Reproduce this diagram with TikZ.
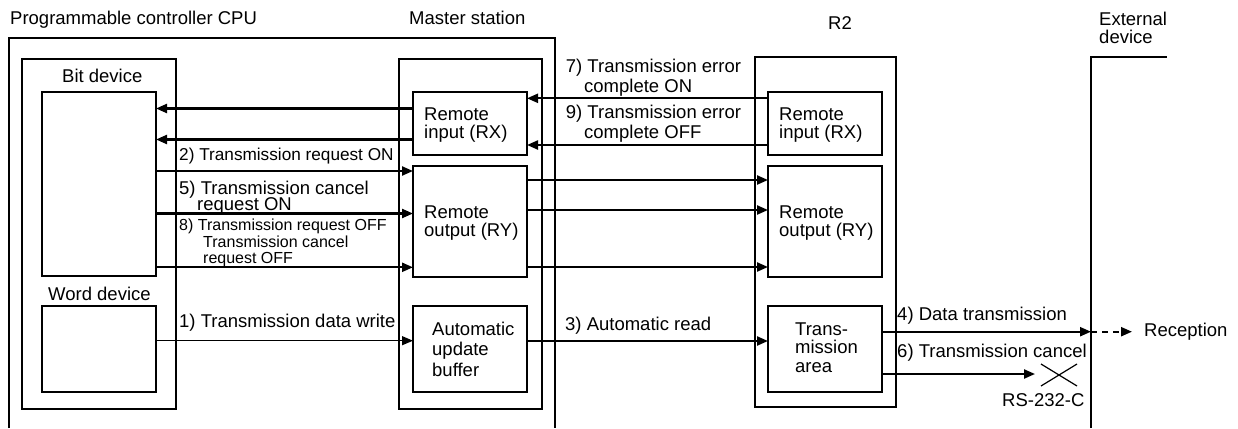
\documentclass[tikz,border=0pt]{standalone}
\usepackage{fontspec}
\setmainfont{Liberation Sans}
\usetikzlibrary{arrows.meta}
\begin{document}
\begin{tikzpicture}[x=1pt,y=-1pt,
  box/.style={draw, line width=1.4pt, anchor=north west, inner sep=0pt, outer sep=0pt},
  txt/.style={anchor=base west, inner sep=0pt, font=\fontsize{18.5}{20}\selectfont},
  stxt/.style={anchor=base west, inner sep=0pt, font=\fontsize{16}{18}\selectfont},
  arr/.style={line width=2.2pt, -{Triangle[length=11pt,width=9pt]}},
  tarr/.style={line width=1.2pt, -{Triangle[length=11pt,width=9pt]}},
  frame/.style={line width=1.4pt}]
\useasboundingbox (0,0) rectangle (1238,428);
% open frames
\draw[frame] (9,428) -- (9,38) -- (555,38) -- (555,428);
\draw[frame] (1091,428) -- (1091,57) -- (1167,57);
% boxes
\node[box, minimum width=154pt, minimum height=350pt] (cpuin) at (22,59) {};
\node[box, minimum width=114pt, minimum height=184pt] (bit) at (42,92) {};
\node[box, minimum width=114pt, minimum height=86pt] (word) at (42,306) {};
\node[box, minimum width=143pt, minimum height=350pt] (mst) at (399,59) {};
\node[box, minimum width=114pt, minimum height=63pt] (mrx) at (413,92) {};
\node[box, minimum width=114pt, minimum height=111pt] (mry) at (413,166) {};
\node[box, minimum width=114pt, minimum height=86pt] (buf) at (413,306) {};
\node[box, minimum width=141pt, minimum height=350pt] (r2) at (755,57) {};
\node[box, minimum width=114pt, minimum height=63pt] (rrx) at (768,92) {};
\node[box, minimum width=114pt, minimum height=111pt] (rry) at (768,166) {};
\node[box, minimum width=114pt, minimum height=86pt] (tra) at (768,306) {};
% titles
\node[txt] (tcpu) at (10,25) {Programmable controller CPU};
\node[txt] (tmst) at (409,25) {Master station};
\node[txt] (tr2) at (828,30) {R2};
\node[txt] (text1) at (1099,26) {External};
\node[txt] (text2) at (1099,43.5) {device};
\node[txt] (tbit) at (62,82) {Bit device};
\node[txt] (tword) at (48,300) {Word device};
% box texts
\node[txt] (mrx1) at (424,120) {Remote};
\node[txt] (mrx2) at (424,138.5) {input (RX)};
\node[txt] (mry1) at (424,218) {Remote};
\node[txt] (mry2) at (424,236.5) {output (RY)};
\node[txt] (buf1) at (432,335) {Automatic};
\node[txt] (buf2) at (432,355.5) {update};
\node[txt] (buf3) at (432,376.5) {buffer};
\node[txt] (rrx1) at (779,120) {Remote};
\node[txt] (rrx2) at (779,138.5) {input (RX)};
\node[txt] (rry1) at (779,218) {Remote};
\node[txt] (rry2) at (779,236.5) {output (RY)};
\node[txt] (tra1) at (795,335) {Trans-};
\node[txt] (tra2) at (795,353.5) {mission};
\node[txt] (tra3) at (795,372) {area};
% connector labels
\node[txt, font=\fontsize{17.2}{19}\selectfont] (l2) at (179,160.5) {2) Transmission request ON};
\node[txt] (l5a) at (179,194.5) {5) Transmission cancel};
\node[txt] (l5b) at (197,210.5) {request ON};
\node[stxt] (l8a) at (179,230) {8) Transmission request OFF};
\node[stxt] (l8b) at (203,247) {Transmission cancel};
\node[stxt] (l8c) at (203,263.5) {request OFF};
\node[txt] (l1) at (179,327.3) {1) Transmission data write};
\node[txt] (l7a) at (565.7,72.7) {7) Transmission error};
\node[txt] (l7b) at (584,92.5) {complete ON};
\node[txt] (l9a) at (565.7,118.3) {9) Transmission error};
\node[txt] (l9b) at (584,138.3) {complete OFF};
\node[txt] (l3) at (565,330.7) {3) Automatic read};
\node[txt] (l4) at (897,320) {4) Data transmission};
\node[txt] (l6) at (897,357.7) {6) Transmission cancel};
\node[txt] (rec) at (1144,336) {Reception};
\node[txt] (rs) at (1002,406.7) {RS-232-C};
% connectors
\draw[arr] (rrx.west |- 0,98.3) -- (mrx.east |- 0,98.3);
\draw[arr] (rrx.west |- 0,145) -- (mrx.east |- 0,145);
\draw[arr] (mrx.west |- 0,108.5) -- (bit.east |- 0,108.5);
\draw[arr] (mrx.west |- 0,139.5) -- (bit.east |- 0,139.5);
\draw[arr] (bit.east |- 0,171) -- (mry.west |- 0,171);
\draw[arr] (bit.east |- 0,213.5) -- (mry.west |- 0,213.5);
\draw[arr] (bit.east |- 0,267.3) -- (mry.west |- 0,267.3);
\draw[arr] (mry.east |- 0,180) -- (rry.west |- 0,180);
\draw[arr] (mry.east |- 0,210) -- (rry.west |- 0,210);
\draw[arr] (mry.east |- 0,267) -- (rry.west |- 0,267);
\draw[tarr] (word.east |- 0,340.7) -- (buf.west |- 0,340.7);
\draw[arr] (buf.east |- 0,341) -- (tra.west |- 0,341);
\coordinate (extin) at (1091,331.7);
\coordinate (recv) at (1132,331.7);
\draw[arr] (tra.east |- extin) -- (extin);
\draw[line width=2.2pt, dash pattern=on 6pt off 5pt, -{Triangle[length=11pt,width=9pt]}] (extin) -- (recv);
\coordinate (xm) at (1059,375);
\draw[arr] (tra.east |- 0,374) -- (1035,374);
\draw[line width=1.2pt] ([shift={(-18,-11)}]xm) -- ([shift={(18,11)}]xm);
\draw[line width=1.2pt] ([shift={(-18,11)}]xm) -- ([shift={(18,-11)}]xm);
\end{tikzpicture}
\end{document}
